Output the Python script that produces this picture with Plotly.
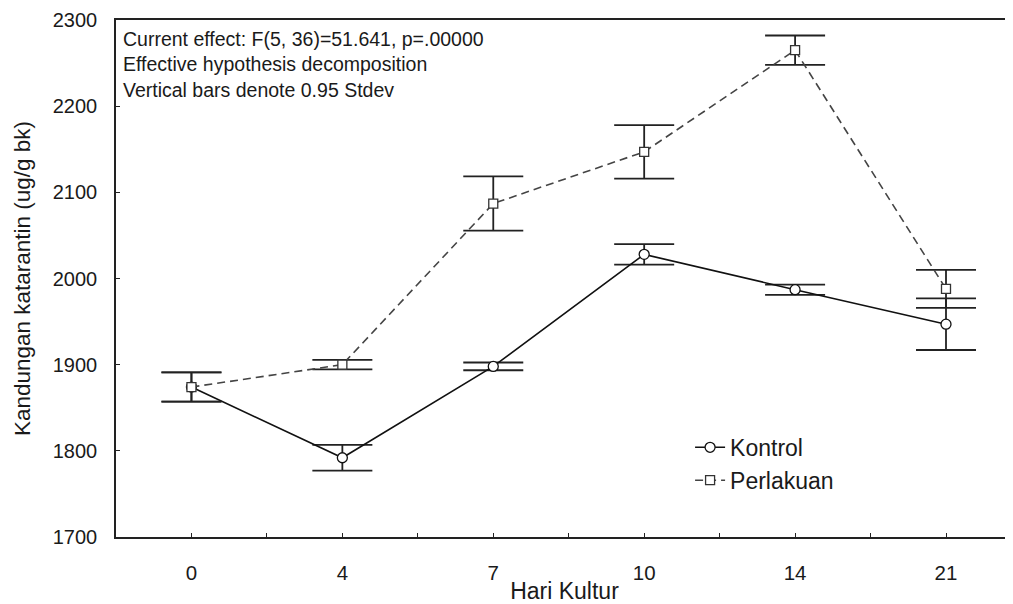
import plotly.graph_objects as go

categories = ["0", "4", "7", "10", "14", "21"]
kontrol = [1874, 1792, 1898, 2028, 1987, 1947]
kontrol_err = [17, 15, 4.5, 12, 6, 30]
perlakuan = [1874, 1900, 2087, 2147, 2265, 1988]
perlakuan_err = [17, 5.5, 31.5, 31, 17, 22]
y_ticks = [1700, 1800, 1900, 2000, 2100, 2200, 2300]

xpos = list(range(len(categories)))
FONT = "Liberation Sans, Arial, sans-serif"
TXT = "#1a1a1a"

fig = go.Figure()
fig.add_trace(go.Scatter(
    x=xpos, y=kontrol, name="Kontrol", mode="lines+markers",
    line=dict(color="#111111", width=1.6),
    marker=dict(symbol="circle", size=10, color="white", line=dict(color="#111111", width=1.3)),
    error_y=dict(type="data", array=kontrol_err, visible=True, color="#222222", thickness=1.8, width=30),
))
fig.add_trace(go.Scatter(
    x=xpos, y=perlakuan, name="Perlakuan", mode="lines+markers",
    line=dict(color="#444444", width=1.6, dash="8px,5px"),
    marker=dict(symbol="square", size=9, color="white", line=dict(color="#333333", width=1.3)),
    error_y=dict(type="data", array=perlakuan_err, visible=True, color="#222222", thickness=1.8, width=30),
))

fig.add_annotation(
    xref="paper", yref="paper", x=0.006, y=0.988, xanchor="left", yanchor="top", align="left",
    text="Current effect: F(5, 36)=51.641, p=.00000<br>Effective hypothesis decomposition<br>Vertical bars denote 0.95 Stdev",
    showarrow=False, font=dict(family=FONT, size=19.5, color=TXT),
)

fig.update_layout(
    width=1005, height=596,
    margin=dict(l=108, r=0, t=12, b=67),
    paper_bgcolor="white", plot_bgcolor="white",
    font=dict(family=FONT, color=TXT),
    showlegend=True,
    legend=dict(x=0.64, y=0.215, xanchor="left", yanchor="top", bgcolor="rgba(0,0,0,0)",
                font=dict(family=FONT, size=23, color=TXT), itemwidth=30, tracegroupgap=2),
    xaxis=dict(
        range=[-0.5, 5.444], tickvals=xpos, ticktext=categories, showgrid=False, zeroline=False,
        showline=True, linecolor="#222222", linewidth=1.6, mirror=True,
        ticks="inside", ticklen=4, tickcolor="#222222", ticklabelstandoff=17,
        minor=dict(tickvals=[-0.5 + i for i in range(7)], ticks="inside", ticklen=4, tickcolor="#222222"),
        tickfont=dict(family=FONT, size=20.5, color=TXT),
        title=dict(text="Hari Kultur", font=dict(family=FONT, size=23, color=TXT), standoff=2),
    ),
    yaxis=dict(
        range=[1700, 2300], tickvals=y_ticks, showgrid=False, zeroline=False,
        showline=True, linecolor="#222222", linewidth=1.6, mirror=False,
        ticks="inside", ticklen=4, tickcolor="#222222", ticklabelstandoff=13,
        tickfont=dict(family=FONT, size=20, color=TXT),
        title=dict(text="Kandungan katarantin (ug/g bk)", font=dict(family=FONT, size=22.5, color=TXT), standoff=16),
    ),
)

fig.write_html("out.html")
